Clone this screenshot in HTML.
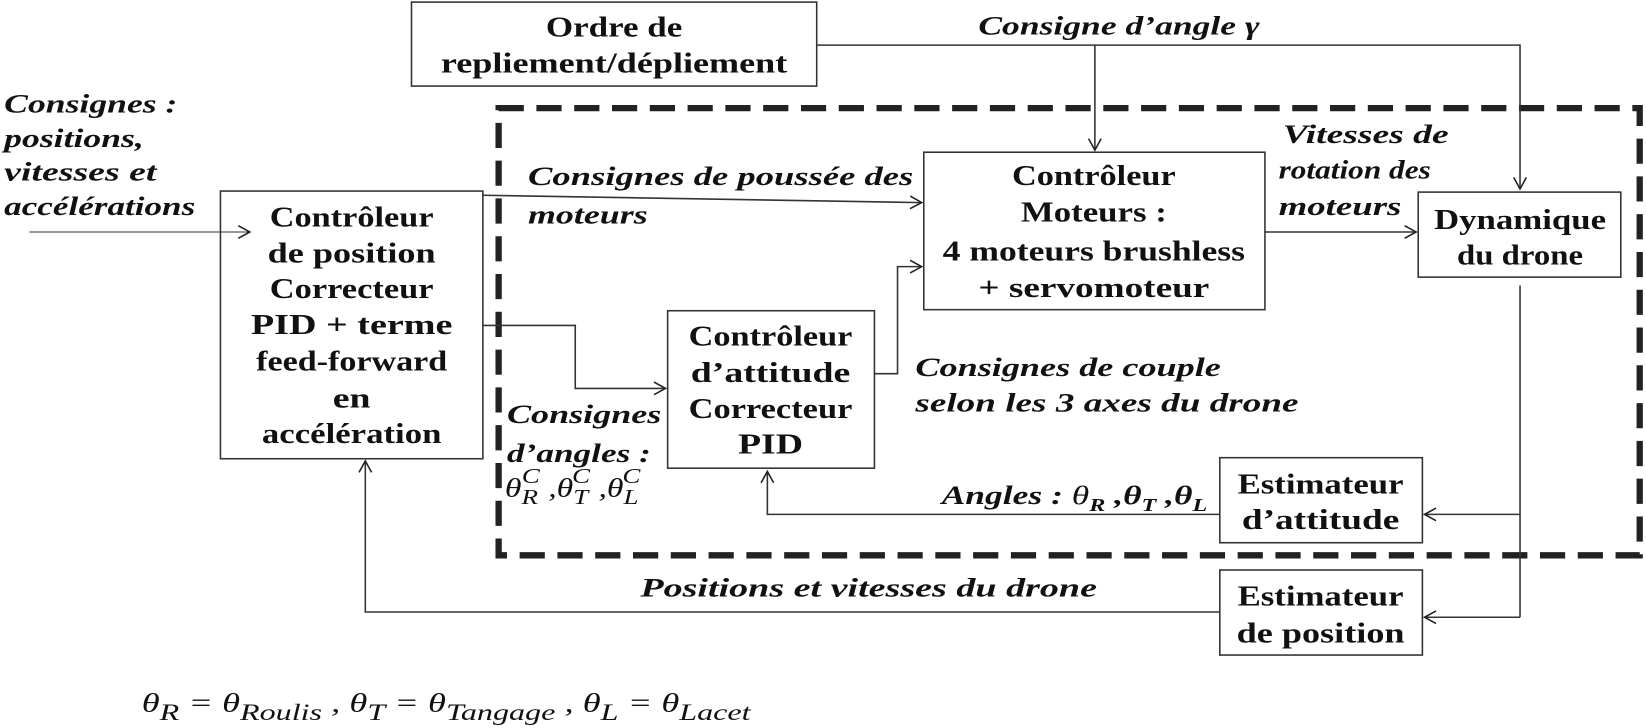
<!DOCTYPE html>
<html><head><meta charset="utf-8"><style>
html,body{margin:0;padding:0;background:#fff;}
svg{display:block;}
text{font-family:"Liberation Serif",serif;fill:#111;}
.b{font-weight:bold;font-size:27px;text-anchor:middle;}
.i{font-style:italic;font-weight:bold;font-size:25px;}
.m{font-style:italic;font-size:25px;}
</style></head><body>
<svg width="1646" height="728" viewBox="0 0 1568 693.5" preserveAspectRatio="none" xmlns="http://www.w3.org/2000/svg">
<defs><marker id="a" markerWidth="14" markerHeight="14" refX="12" refY="7" orient="auto" markerUnits="userSpaceOnUse"><path d="M1,1 L12,7 L1,13" fill="none" stroke="#222" stroke-width="1.5"/></marker></defs>
<g fill="none" stroke="#333" stroke-width="1.5">
<rect x="392" y="2" width="386" height="80"/>
<rect x="210" y="182" width="250" height="255"/>
<rect x="636" y="296" width="197" height="150"/>
<rect x="880" y="145" width="325" height="150"/>
<rect x="1351" y="183" width="193" height="81"/>
<rect x="1162" y="436" width="193" height="81"/>
<rect x="1162" y="543" width="193" height="81"/>
</g>
<rect x="475" y="103" width="1087" height="426" fill="none" stroke="#222" stroke-width="6" stroke-dasharray="24,12"/>
<g fill="none" stroke="#333" stroke-width="1.5">
<path d="M778,43 H1448 V180" marker-end="url(#a)"/>
<path d="M1043,43 V143" marker-end="url(#a)"/>
<path d="M28,221 H238" stroke-width="1" marker-end="url(#a)"/>
<path d="M460,186 L878,193" marker-end="url(#a)"/>
<path d="M460,310 H548 V370 H634" marker-end="url(#a)"/>
<path d="M833,356 H855 V254 H878" marker-end="url(#a)"/>
<path d="M1205,221 H1349" marker-end="url(#a)"/>
<path d="M1448,272 V588"/>
<path d="M1448,490 H1357" marker-end="url(#a)"/>
<path d="M1448,588 H1357" marker-end="url(#a)"/>
<path d="M1162,490 H731 V449" marker-end="url(#a)"/>
<path d="M1162,583 H348 V439" marker-end="url(#a)"/>
</g>
<g>
<text class="b" x="585" y="35" textLength="130" lengthAdjust="spacingAndGlyphs">Ordre de</text>
<text class="b" x="585" y="69" textLength="330" lengthAdjust="spacingAndGlyphs">repliement/dépliement</text>
<text class="i" x="932" y="33" textLength="268" lengthAdjust="spacingAndGlyphs">Consigne d’angle γ</text>
<text class="i" x="4" y="107" textLength="165" lengthAdjust="spacingAndGlyphs">Consignes :</text>
<text class="i" x="4" y="140" textLength="133" lengthAdjust="spacingAndGlyphs">positions,</text>
<text class="i" x="4" y="172" textLength="145" lengthAdjust="spacingAndGlyphs">vitesses et</text>
<text class="i" x="4" y="205" textLength="182" lengthAdjust="spacingAndGlyphs">accélérations</text>
<text class="b" x="335" y="216" textLength="156" lengthAdjust="spacingAndGlyphs">Contrôleur</text>
<text class="b" x="335" y="250" textLength="160" lengthAdjust="spacingAndGlyphs">de position</text>
<text class="b" x="335" y="284" textLength="156" lengthAdjust="spacingAndGlyphs">Correcteur</text>
<text class="b" x="335" y="318" textLength="192" lengthAdjust="spacingAndGlyphs">PID + terme</text>
<text class="b" x="335" y="353" textLength="182" lengthAdjust="spacingAndGlyphs">feed-forward</text>
<text class="b" x="335" y="388" textLength="36" lengthAdjust="spacingAndGlyphs">en</text>
<text class="b" x="335" y="422" textLength="171" lengthAdjust="spacingAndGlyphs">accélération</text>
<text class="i" x="503" y="176" textLength="367" lengthAdjust="spacingAndGlyphs">Consignes de poussée des</text>
<text class="i" x="503" y="213" textLength="114" lengthAdjust="spacingAndGlyphs">moteurs</text>
<text class="b" x="734" y="329" textLength="156" lengthAdjust="spacingAndGlyphs">Contrôleur</text>
<text class="b" x="734" y="364" textLength="152" lengthAdjust="spacingAndGlyphs">d’attitude</text>
<text class="b" x="734" y="398" textLength="156" lengthAdjust="spacingAndGlyphs">Correcteur</text>
<text class="b" x="734" y="432" textLength="62" lengthAdjust="spacingAndGlyphs">PID</text>
<text class="b" x="1042" y="176" textLength="156" lengthAdjust="spacingAndGlyphs">Contrôleur</text>
<text class="b" x="1042" y="211" textLength="139" lengthAdjust="spacingAndGlyphs">Moteurs :</text>
<text class="b" x="1042" y="248" textLength="288" lengthAdjust="spacingAndGlyphs">4 moteurs brushless</text>
<text class="b" x="1042" y="283" textLength="220" lengthAdjust="spacingAndGlyphs">+ servomoteur</text>
<text class="i" x="1222" y="136" textLength="158" lengthAdjust="spacingAndGlyphs">Vitesses de</text>
<text class="i" x="1218" y="170" textLength="145" lengthAdjust="spacingAndGlyphs">rotation des</text>
<text class="i" x="1218" y="205" textLength="117" lengthAdjust="spacingAndGlyphs">moteurs</text>
<text class="b" x="1448" y="218" textLength="164" lengthAdjust="spacingAndGlyphs">Dynamique</text>
<text class="b" x="1448" y="252" textLength="120" lengthAdjust="spacingAndGlyphs">du drone</text>
<text class="i" x="872" y="358" textLength="291" lengthAdjust="spacingAndGlyphs">Consignes de couple</text>
<text class="i" x="872" y="392" textLength="365" lengthAdjust="spacingAndGlyphs">selon les 3 axes du drone</text>
<text class="i" x="483" y="403" textLength="147" lengthAdjust="spacingAndGlyphs">Consignes</text>
<text class="i" x="483" y="440" textLength="137" lengthAdjust="spacingAndGlyphs">d’angles :</text>
<text class="m" x="481" y="473" font-size="30" textLength="129" lengthAdjust="spacingAndGlyphs">θ<tspan font-size="20" dy="7">R</tspan><tspan font-size="20" dx="-12" dy="-20">C</tspan><tspan dy="13"> ,θ</tspan><tspan font-size="20" dy="7">T</tspan><tspan font-size="20" dx="-12" dy="-20">C</tspan><tspan dy="13"> ,θ</tspan><tspan font-size="20" dy="7">L</tspan><tspan font-size="20" dx="-12" dy="-20">C</tspan></text>
<text class="i" x="897" y="480" textLength="253" lengthAdjust="spacingAndGlyphs">Angles : <tspan font-weight="normal">θ</tspan><tspan font-size="17" dy="7">R</tspan><tspan dy="-7"> ,θ</tspan><tspan font-size="17" dy="7">T</tspan><tspan dy="-7"> ,θ</tspan><tspan font-size="17" dy="7">L</tspan></text>
<text class="b" x="1258" y="470" textLength="158" lengthAdjust="spacingAndGlyphs">Estimateur</text>
<text class="b" x="1258" y="504" textLength="150" lengthAdjust="spacingAndGlyphs">d’attitude</text>
<text class="b" x="1258" y="577" textLength="158" lengthAdjust="spacingAndGlyphs">Estimateur</text>
<text class="b" x="1258" y="612" textLength="160" lengthAdjust="spacingAndGlyphs">de position</text>
<text class="i" x="610" y="568" textLength="435" lengthAdjust="spacingAndGlyphs">Positions et vitesses du drone</text>
<text class="m" x="135" y="678" font-size="32" textLength="580" lengthAdjust="spacingAndGlyphs">θ<tspan font-size="22" dy="8">R</tspan><tspan dy="-8"> = θ</tspan><tspan font-size="22" dy="8">Roulis</tspan><tspan dy="-8"> , θ</tspan><tspan font-size="22" dy="8">T</tspan><tspan dy="-8"> = θ</tspan><tspan font-size="22" dy="8">Tangage</tspan><tspan dy="-8"> , θ</tspan><tspan font-size="22" dy="8">L</tspan><tspan dy="-8"> = θ</tspan><tspan font-size="22" dy="8">Lacet</tspan></text>
</g>
</svg>
</body></html>
